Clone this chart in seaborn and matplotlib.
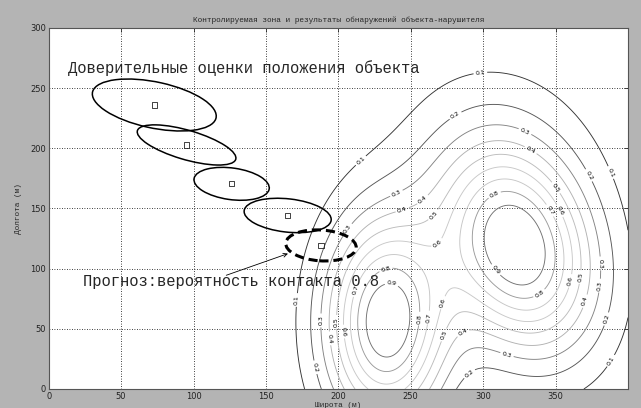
import numpy as np
import pandas as pd
import matplotlib
matplotlib.use("Agg")
import matplotlib.pyplot as plt
from matplotlib.patches import Ellipse
import seaborn as sns

# Estimated positions of the intruder (m)
est_x = [72.9, 95.2, 126.3, 165.0, 188.0]
est_y = [236.0, 202.8, 170.5, 144.2, 119.3]
# Confidence ellipses around each estimate
ell_a = [44.0, 36.0, 26.3, 30.3, 24.4]     # semi-major axis (m)
ell_b = [19.0, 12.0, 13.1, 13.8, 12.8]     # semi-minor axis (m)
ell_ang = [-15, -20, -10, -8, -5]          # orientation (deg)

# Contact-probability surface of the controlled zone (Gaussian components)
comp_x = [233.0, 323.5, 310.0]
comp_y = [55.0, 117.0, 200.0]
comp_sx = [29.0, 35.0, 60.0]
comp_sy = [60.0, 60.0, 70.0]
comp_rot = [0.0, 12.0, 0.0]
comp_w = [1.0, 1.0, 0.08]
levels = [0.1, 0.2, 0.3, 0.4, 0.5, 0.6, 0.7, 0.8, 0.9]

# where the contour values are written (m)
label_pos = [
    (297.7, 266.8), (219.4, 184.7), (171.1, 74.0), (387.3, 179.5), (387.3, 24.1),
    (275.7, 237.4), (371.2, 176.4), (203.3, 135.5), (186.0, 18.5), (288.4, 15.8), (387.3, 57.3),
    (327.5, 210.2), (239.0, 165.4), (187.2, 57.0), (316.0, 26.8), (383.8, 104.5),
    (330.9, 194.5), (243.6, 151.0), (193.6, 42.0), (286.1, 46.8), (376.9, 86.4),
    (258.5, 157.1), (348.2, 165.4), (197.5, 55.8), (270.0, 46.3), (367.8, 74.0),
    (264.3, 146.0), (351.6, 147.3), (273.4, 71.2), (365.4, 93.3), (202.2, 47.6),
    (211.3, 82.3), (260.8, 59.6), (271.2, 116.9), (344.7, 147.3), (357.4, 90.6),
    (233.2, 97.5), (252.7, 58.8), (309.1, 158.5), (340.2, 76.7),
    (236.7, 86.4), (311.4, 101.6),
]

x_ticks = [0, 50, 100, 150, 200, 250, 300, 350]
y_ticks = [0, 50, 100, 150, 200, 250, 300]

title = "Контролируемая зона и результаты обнаружений объекта-нарушителя"
xlabel = "Широта (м)"
ylabel = "Долгота (м)"
note_top = "Доверительные оценки положения объекта"
note_forecast = "Прогноз:вероятность контакта 0.8"

sns.set_style("white")
plt.rcParams["font.family"] = ["DejaVu Sans"]
mono = ["Liberation Mono", "DejaVu Sans Mono"]

fig = plt.figure(figsize=(6.41, 4.08), dpi=100, facecolor="#b4b4b4")
ax = fig.add_axes([0.076, 0.0466, 0.9037, 0.8848])
ax.set_facecolor("white")

# probability field
gx = np.linspace(0, 400, 401)
gy = np.linspace(0, 300, 301)
X, Y = np.meshgrid(gx, gy)
Z = np.zeros_like(X)
for cx, cy, sx, sy, rot, w in zip(comp_x, comp_y, comp_sx, comp_sy, comp_rot, comp_w):
    t = np.deg2rad(rot)
    dx, dy = X - cx, Y - cy
    u = np.cos(t) * dx + np.sin(t) * dy
    v = -np.sin(t) * dx + np.cos(t) * dy
    Z += w * np.exp(-0.5 * ((u / sx) ** 2 + (v / sy) ** 2))

# grey shades: luminance of the jet colormap over the data range
jet = plt.get_cmap("jet")
grays = []
for lv in levels:
    r, g, b, _ = jet(lv / Z.max())
    lum = 0.12 + 0.8 * (0.299 * r + 0.587 * g + 0.114 * b)
    grays.append((lum, lum, lum))

cs = ax.contour(X, Y, Z, levels=levels, colors=grays, linewidths=0.65)
ax.clabel(cs, manual=label_pos, fmt="%.1f", fontsize=4.5, colors="black",
          inline=True, inline_spacing=2)

# confidence ellipses
for i, (cx, cy, a, b, ang) in enumerate(zip(est_x, est_y, ell_a, ell_b, ell_ang)):
    last = i == len(est_x) - 1
    ax.add_patch(Ellipse((cx, cy), 2 * a, 2 * b, angle=ang, fill=False,
                         edgecolor="black",
                         linewidth=2.2 if last else 1.1,
                         linestyle=(0, (3, 1.6)) if last else "-", zorder=4))

# estimated positions
pts = pd.DataFrame({"x": est_x, "y": est_y})
sns.scatterplot(data=pts, x="x", y="y", marker="s", s=14, ax=ax, zorder=5)
coll = ax.collections[-1]
coll.set_facecolor("none")
coll.set_edgecolor("#222222")
coll.set_linewidth(0.6)

ax.text(13.3, 267, note_top, family=mono, fontsize=11.2, va="center", ha="left")
ax.text(23.7, 89, note_forecast, family=mono, fontsize=11.2, va="center", ha="left")
ax.annotate("", xy=(165.2, 112.5), xytext=(122.6, 94.5),
            arrowprops=dict(arrowstyle="->", lw=0.6, color="black",
                            shrinkA=0, shrinkB=0, mutation_scale=7))

ax.set_xlim(0, 400)
ax.set_ylim(0, 300)
ax.set_xticks(x_ticks)
ax.set_yticks(y_ticks)
ax.grid(True, linestyle=(0, (1, 2)), color="black", linewidth=0.6)
ax.tick_params(direction="in", top=True, right=True, length=3, width=0.6,
               labelsize=6, labelcolor="#222222", pad=2)
for sp in ax.spines.values():
    sp.set_color("#555555")
    sp.set_linewidth(0.8)

ax.set_xlabel(xlabel, family=mono, fontsize=5.6, labelpad=1)
ax.set_ylabel(ylabel, family=mono, fontsize=5.6, labelpad=6)
ax.set_title(title, family=mono, fontsize=5.6, pad=4)

fig.savefig("out.png", dpi=100, facecolor=fig.get_facecolor())
